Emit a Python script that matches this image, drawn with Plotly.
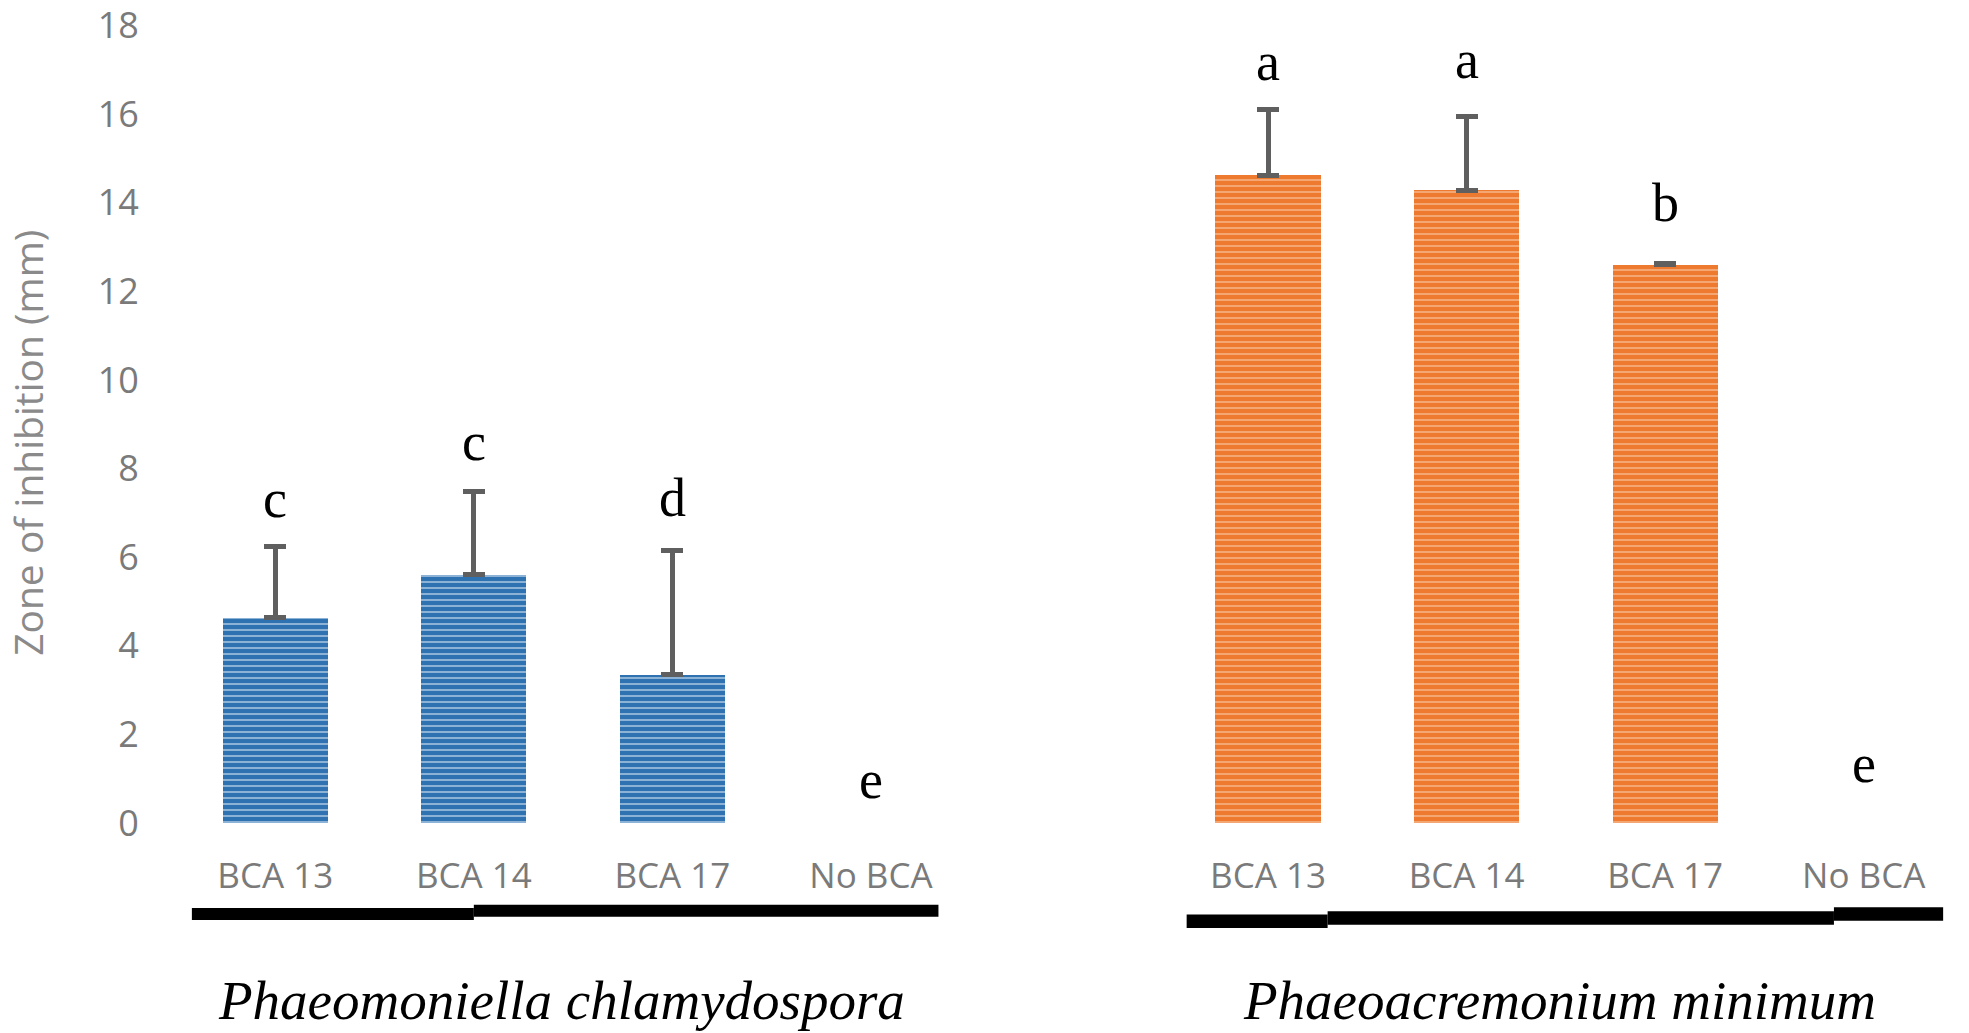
import plotly.graph_objects as go

# ---- data ----
treatments = ["BCA 13", "BCA 14", "BCA 17", "No BCA"]
pch_values = [4.63, 5.60, 3.35, 0.0]
pch_errors = [1.62, 1.89, 2.79, 0.0]
pch_letters = ["c", "c", "d", "e"]
pch_letter_y = [7.31, 8.59, 7.34, 0.97]

pmi_values = [14.62, 14.28, 12.60, 0.0]
pmi_errors = [1.48, 1.66, 0.03, 0.0]
pmi_letters = ["a", "a", "b", "e"]
pmi_letter_y = [17.18, 17.21, 13.99, 1.33]

species = ["Phaeomoniella chlamydospora", "Phaeoacremonium minimum"]
y_ticks = [0, 2, 4, 6, 8, 10, 12, 14, 16, 18]
y_title = "Zone of inhibition (mm)"

# category slot positions (one empty slot between the two panels)
pch_x = list(range(len(treatments)))
pmi_x = [len(treatments) + 1 + i for i in range(len(treatments))]

GRAY_TXT = "#7a7a7a"
ERR = "#5f5f5f"

W, H = 1969, 1033
ML, MR, MT, MB = 176, 6, 21, 210
PLOT_W = W - ML - MR
PLOT_H = H - MT - MB


def shown(values):
    # a zero-height bar is not drawn in the reference (and carries no error bar)
    return [v if v > 0 else None for v in values]


fig = go.Figure()

fig.add_trace(go.Bar(
    x=pch_x, y=shown(pch_values), width=0.53,
    marker=dict(color="#2e72b2", line=dict(width=0),
                pattern=dict(shape="-", fgcolor="#ffffff", size=6, solidity=0.3,
                             fillmode="overlay")),
    error_y=dict(type="data", symmetric=False, array=pch_errors,
                 arrayminus=[0] * len(pch_errors), color=ERR, thickness=5, width=11),
    showlegend=False,
))
fig.add_trace(go.Bar(
    x=pmi_x, y=shown(pmi_values), width=0.53,
    marker=dict(color="#ee7a2f", line=dict(width=0),
                pattern=dict(shape="-", fgcolor="#fff3e6", size=6, solidity=0.25,
                             fillmode="overlay")),
    error_y=dict(type="data", symmetric=False, array=pmi_errors,
                 arrayminus=[0] * len(pmi_errors), color=ERR, thickness=5, width=11),
    showlegend=False,
))

annotations = []
for xs, letters, ly in [(pch_x, pch_letters, pch_letter_y), (pmi_x, pmi_letters, pmi_letter_y)]:
    for x, t, y in zip(xs, letters, ly):
        annotations.append(dict(x=x, y=y, xref="x", yref="y", text=t, showarrow=False,
                                font=dict(family="Liberation Serif, Times New Roman, serif",
                                          size=54, color="black"),
                                xanchor="center", yanchor="middle"))

group_centers = [sum(pch_x) / len(pch_x) - 0.06, sum(pmi_x) / len(pmi_x) - 0.03]
for gx, name in zip(group_centers, species):
    annotations.append(dict(x=gx, y=-0.221, xref="x", yref="paper", text="<i>%s</i>" % name,
                            showarrow=False, xanchor="center", yanchor="middle",
                            font=dict(family="Liberation Serif, Times New Roman, serif",
                                      size=55, color="black")))

annotations.append(dict(x=(28 - ML) / PLOT_W, y=0.474, xref="paper", yref="paper",
                        xanchor="center", yanchor="middle", text=y_title, textangle=-90,
                        showarrow=False,
                        font=dict(family="Open Sans, sans-serif", size=39, color="#8a8a8a")))

shapes = []
segs = [(-0.42, 1.0, -0.106, -0.121), (1.0, 3.34, -0.102, -0.117),
        (4.59, 5.3, -0.114, -0.131), (5.3, 7.85, -0.110, -0.127), (7.85, 8.40, -0.105, -0.122)]
for x0, x1, y0, y1 in segs:
    shapes.append(dict(type="rect", xref="x", yref="paper", x0=x0, x1=x1, y0=y0, y1=y1,
                       fillcolor="black", line=dict(width=0), layer="above"))

fig.update_layout(
    width=W, height=H,
    margin=dict(l=ML, r=MR, t=MT, b=MB, autoexpand=False),
    paper_bgcolor="white", plot_bgcolor="white",
    bargap=0, barmode="overlay",
    annotations=annotations, shapes=shapes,
    xaxis=dict(range=[-0.5, 8.5], tickvals=pch_x + pmi_x, ticktext=treatments + treatments,
               showgrid=False, zeroline=False, showline=False,
               ticks="outside", ticklen=22, tickcolor="rgba(0,0,0,0)",
               tickfont=dict(family="Open Sans, sans-serif", size=35, color=GRAY_TXT)),
    yaxis=dict(range=[0, 18.1], tickvals=y_ticks, showgrid=False, zeroline=False,
               showline=False, ticks="outside", ticklen=29, tickcolor="rgba(0,0,0,0)",
               ticklabeloverflow="allow",
               tickfont=dict(family="Open Sans, sans-serif", size=36, color=GRAY_TXT)),
)

fig.write_html("out.html", config={"displayModeBar": False},
               post_script="document.body.style.margin='0';document.body.style.overflow='hidden';")
